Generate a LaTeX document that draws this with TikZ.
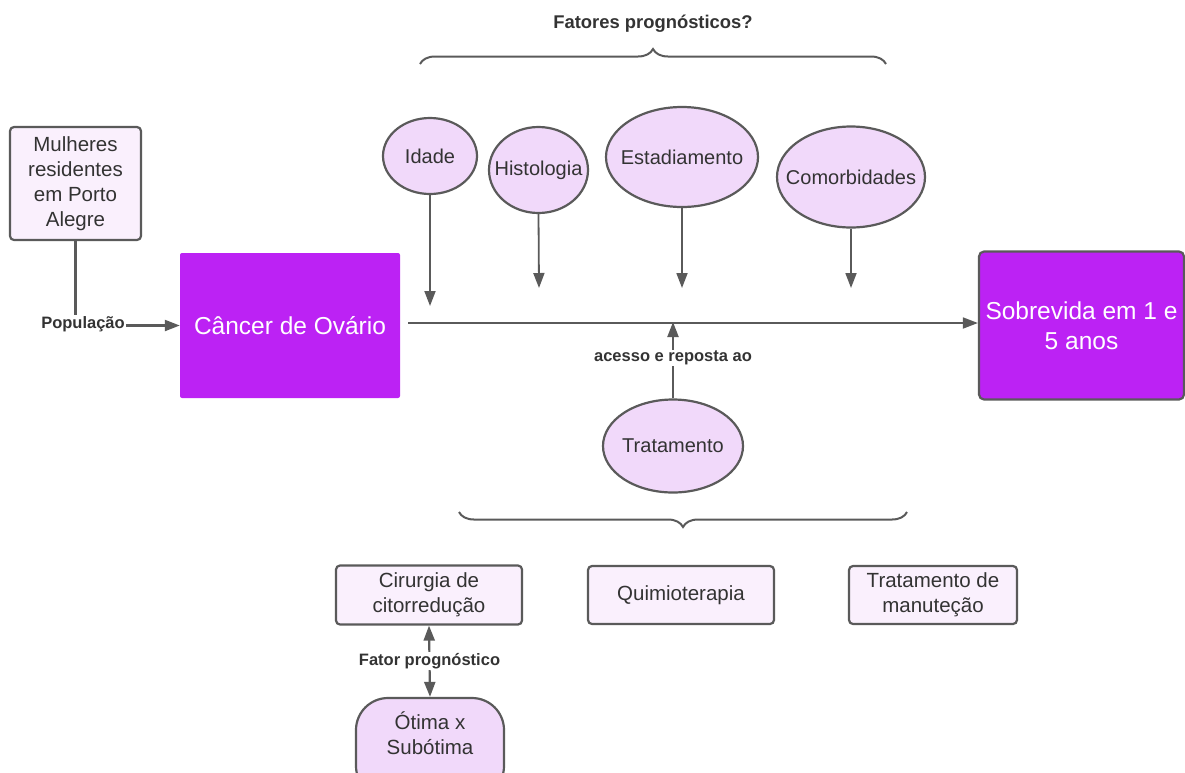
\documentclass[tikz,border=0pt]{standalone}
\usepackage{fontspec}
\setmainfont{Liberation Sans}
\usetikzlibrary{shapes.geometric,arrows.meta,decorations.pathreplacing}
\definecolor{edge}{HTML}{5A5A5A}
\definecolor{txt}{HTML}{333333}
\definecolor{boxfill}{HTML}{FAF0FD}
\definecolor{ellfill}{HTML}{F1D9FA}
\definecolor{purp}{HTML}{BC22F4}
\tikzset{
  lbox/.style={draw=edge, line width=2.2pt, rounded corners=4pt, fill=boxfill, text=txt,
    align=center, inner sep=2pt, font=\fontsize{20.5}{25}\selectfont},
  ell/.style={ellipse, draw=edge, line width=2.2pt, fill=ellfill, text=txt, inner sep=0pt,
    align=center, font=\fontsize{20}{24}\selectfont},
  pbox/.style={fill=purp, text=white, align=center, rounded corners=2pt,
    font=\fontsize{24.5}{30}\selectfont},
  lab/.style={fill=white, text=txt, inner sep=1pt, font=\bfseries\fontsize{16.5}{19}\selectfont},
  tip/.style={Triangle[length=15pt,width=11pt]},
  arr/.style={draw=edge, line width=2.2pt, -{Triangle[length=15pt,width=11pt]}},
  thin arr/.style={draw=edge, line width=1.8pt, -{Triangle[length=15pt,width=11pt]}},
  brc/.style={draw=edge, line width=2pt, decorate, decoration={brace, amplitude=15pt}},
}
\begin{document}
\begin{tikzpicture}[x=1pt,y=-1pt]
\useasboundingbox (0,0) rectangle (1185,772);
\clip (0,0) rectangle (1185,772);
% nodes
\node[lbox, minimum width=131pt, minimum height=113pt] (mul) at (75.5,183.5) {Mulheres\\residentes\\em Porto\\Alegre};
\node[pbox, minimum width=220pt, minimum height=145pt] (can) at (290,325.5) {Câncer de Ovário};
\node[pbox, draw=edge, line width=2.2pt, rounded corners=5pt, minimum width=205pt, minimum height=148pt] (sob) at (1081.5,325.5) {Sobrevida em 1 e\\5 anos};
\node[ell, minimum width=94pt, minimum height=76pt] (ida) at (430,156) {\makebox[0pt]{Idade}};
\node[ell, minimum width=99pt, minimum height=86pt] (his) at (538.5,170) {\makebox[0pt]{Histologia}};
\node[ell, minimum width=152pt, minimum height=100pt] (est) at (682,157) {\makebox[0pt]{Estadiamento}};
\node[ell, minimum width=148pt, minimum height=101pt] (com) at (851,177) {\makebox[0pt]{Comorbidades}};
\node[ell, minimum width=140pt, minimum height=93pt] (tra) at (673,446) {\makebox[0pt]{Tratamento}};
\node[lbox, minimum width=186pt, minimum height=59pt] (cir) at (429,595) {Cirurgia de\\citorredução};
\node[lbox, minimum width=186pt, minimum height=58pt] (qui) at (681,595) {Quimioterapia};
\node[lbox, minimum width=168pt, minimum height=58pt] (man) at (933,595) {Tratamento de\\manuteção};
\node[lbox, fill=ellfill, rounded corners=32pt, minimum width=148pt, minimum height=100pt] (oti) at (430,748) {};
\node[text=txt, align=center, font=\fontsize{20.5}{25}\selectfont] (otit) at (430,733) {Ótima x\\Subótima};
% title
\node[text=txt, font=\bfseries\fontsize{18.4}{22}\selectfont] (fat) at (653,24) {Fatores prognósticos?};
% braces
\coordinate (tb1) at (420,64);
\coordinate (tb2) at (886,64);
\draw[brc] (tb1) -- (tb2);
\coordinate (bb1) at (459,512);
\coordinate (bb2) at (907,512);
\draw[brc, decoration={brace, amplitude=15pt, mirror}] (bb1) -- (bb2);
% main line
\coordinate (ms) at (408,323);
\draw[thin arr] (ms) -- (ms -| sob.west);
% factor arrows
\coordinate (a1) at (430,306);
\coordinate (a2) at (539,288);
\coordinate (a3) at (682,288);
\coordinate (a4) at (851,288);
\draw[thin arr] (ida.south) -- (a1);
\draw[thin arr] (his.south) -- (a2);
\draw[thin arr] (est.south) -- (a3);
\draw[thin arr] (com.south) -- (a4);
% treatment arrow
\coordinate (tt) at (673,322);
\draw[arr] (tra.north) -- (tt) node[lab, pos=0.53] {acesso e reposta ao};
% population
\coordinate (pc) at (75.5,325.5);
\draw[draw=edge, line width=2.2pt] (mul.south) -- (pc);
\draw[arr] (pc) -- (can.west);
\node[lab] (pop) at (83,324) {População};
% fator prognostico
\draw[draw=edge, line width=2.2pt, {Triangle[length=15pt,width=11pt]}-{Triangle[length=15pt,width=11pt]}] (cir.south) -- (oti.north) node[lab, midway] {Fator prognóstico};
\end{tikzpicture}
\end{document}
